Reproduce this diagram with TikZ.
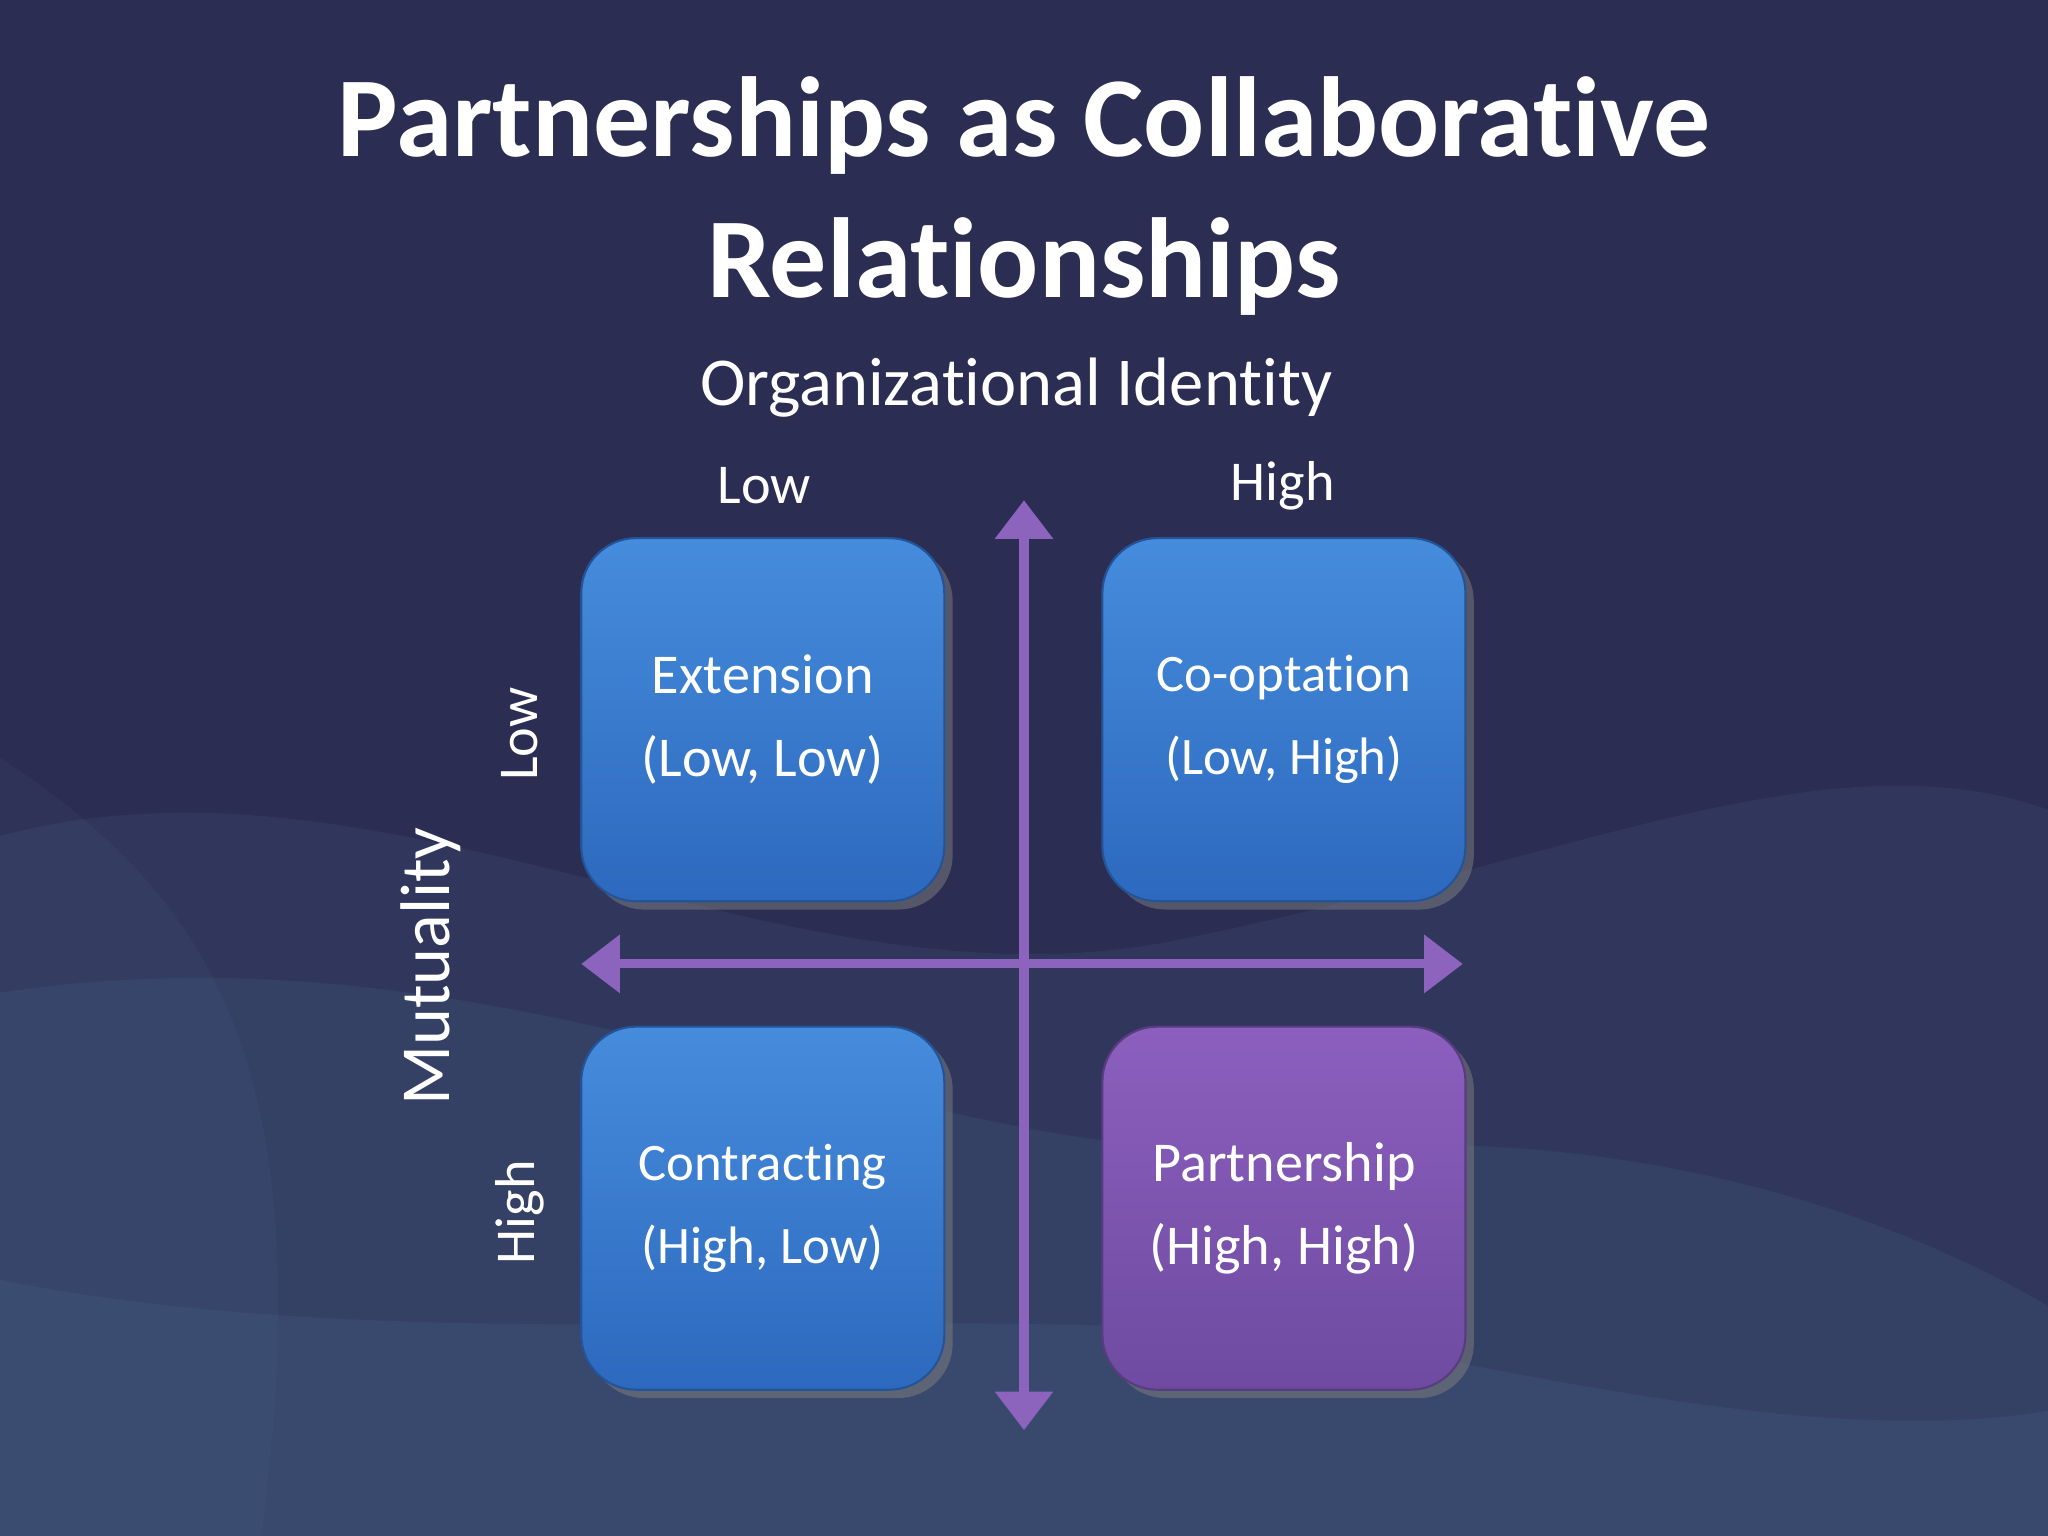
\documentclass[tikz,border=0pt]{standalone}
\usepackage{fontspec}
\setmainfont[Ligatures={NoCommon},Contextuals={NoAlternate}]{Carlito}
\usetikzlibrary{arrows.meta,shadows}
\definecolor{bg}{RGB}{44,45,82}
\definecolor{wave}{RGB}{90,130,170}
\definecolor{boxtop}{RGB}{70,140,220}
\definecolor{boxbot}{RGB}{45,105,190}
\definecolor{ptop}{RGB}{140,95,190}
\definecolor{pbot}{RGB}{110,75,160}
\definecolor{axis}{RGB}{140,100,190}
\tikzset{
 quad/.style={rounded corners=42*0.3716pt, minimum width=278*0.3716pt, minimum height=278*0.3716pt, top color=boxtop, bottom color=boxbot, draw=boxbot!80!black, line width=0.6pt, text=white, align=center, font=\fontsize{16}{23.5}\selectfont, drop shadow={opacity=0.5}},
 pquad/.style={quad, top color=ptop, bottom color=pbot, draw=pbot!80!black},
 lbl/.style={text=white, font=\fontsize{16}{19}\selectfont},
 ax/.style={draw=axis, line width=2.6pt, {Triangle[width=16pt,length=11pt]}-{Triangle[width=16pt,length=11pt]}}
}
\begin{document}
\begin{tikzpicture}[x=0.01306cm,y=-0.01306cm]
\fill[bg] (0,0) rectangle (1568,1176);
\useasboundingbox (0,0) rectangle (1568,1176);
% waves
\fill[wave,opacity=0.12] (0,640) .. controls (300,560) and (600,780) .. (900,720) .. controls (1200,660) and (1400,560) .. (1568,620) -- (1568,1176) -- (0,1176) -- cycle;
\fill[wave,opacity=0.12] (0,760) .. controls (400,700) and (700,900) .. (1000,880) .. controls (1250,860) and (1450,930) .. (1568,1000) -- (1568,1176) -- (0,1176) -- cycle;
\fill[wave,opacity=0.12] (0,980) .. controls (350,1050) and (800,980) .. (1100,1040) .. controls (1300,1080) and (1450,1100) .. (1568,1080) -- (1568,1176) -- (0,1176) -- cycle;
\fill[wave,opacity=0.08] (0,580) .. controls (150,680) and (250,800) .. (200,1176) -- (0,1176) -- cycle;
% title
\node[text=white,font=\bfseries\fontsize{32.4}{40}\selectfont,align=center] (title) at (784,150) {Partnerships as Collaborative\\Relationships};
\node[text=white,font=\fontsize{19.5}{24}\selectfont] (oi) at (778,297) {Organizational Identity};
\node[lbl] (lowx) at (585,372) {Low};
\node[lbl] (highx) at (982,372) {High};
\node[lbl,rotate=90] (lowy) at (398,562) {Low};
\node[lbl,rotate=90] (highy) at (398,928) {High};
\node[text=white,font=\fontsize{20}{24}\selectfont,rotate=90] (mut) at (330,740) {Mutuality};
% axes
\coordinate (vt) at (784,383); \coordinate (vb) at (784,1095);
\coordinate (hl) at (445,738); \coordinate (hr) at (1120,738);
\draw[ax] (vb) -- (vt);
\draw[ax] (hl) -- (hr);
% boxes
\node[quad] (ext) at (584,551) {Extension\\(Low, Low)};
\node[quad,font=\fontsize{15}{23.5}\selectfont] (coo) at (983,551) {Co-optation\\(Low, High)};
\node[quad,font=\fontsize{15}{23.5}\selectfont] (con) at (584,925) {Contracting\\(High, Low)};
\node[pquad] (par) at (983,925) {Partnership\\(High, High)};
\end{tikzpicture}
\end{document}
